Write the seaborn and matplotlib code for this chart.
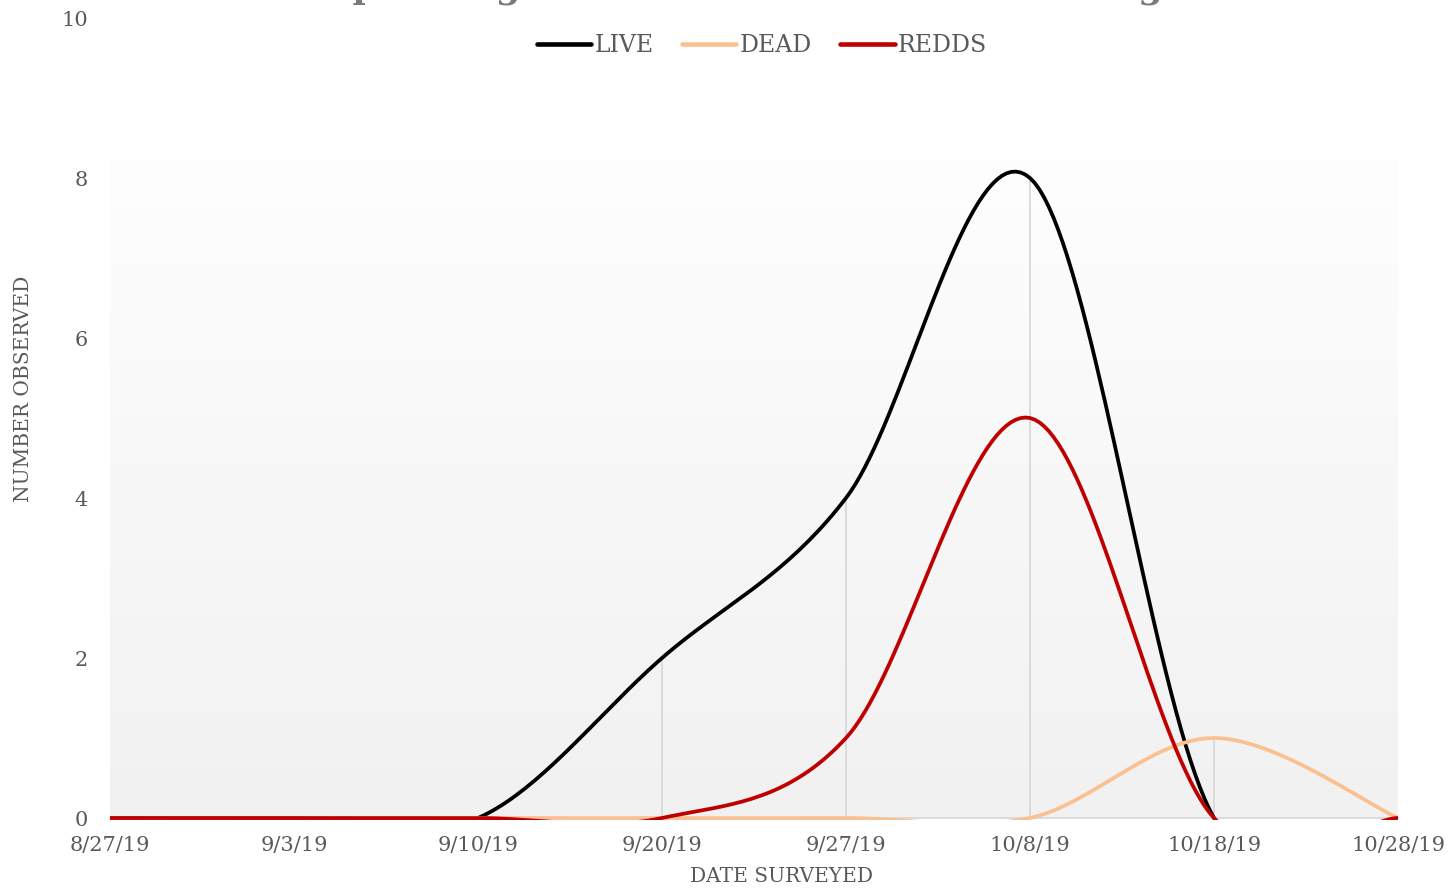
import numpy as np
import pandas as pd
import matplotlib
matplotlib.use('Agg')
import matplotlib.pyplot as plt
import seaborn as sns
from matplotlib.colors import LinearSegmentedColormap
from matplotlib.lines import Line2D
from matplotlib.patches import Rectangle

# data
dates = ['8/27/19', '9/3/19', '9/10/19', '9/20/19', '9/27/19', '10/8/19', '10/18/19', '10/28/19']
live = [0, 0, 0, 2, 4, 8, 0, 0]
dead = [0, 0, 0, 0, 0, 0, 1, 0]
redds = [0, 0, 0, 0, 1, 5, 0, 0]
series_names = ['LIVE', 'DEAD', 'REDDS']
series_colors = ['#000000', '#FBC08F', '#C00000']
title = 'Spawning Chinook Salmon Counts During'

TEXT = '#595959'


def smooth(y, n=40):
    # excel-style smoothed line: catmull-rom as cubic bezier segments
    pts = np.column_stack([np.arange(len(y)), np.asarray(y, float)])
    pad = np.vstack([pts[0], pts, pts[-1]])
    t = np.linspace(0, 1, n)[:, None]
    out = []
    for i in range(len(pts) - 1):
        p0, p1, p2, p3 = pad[i], pad[i + 1], pad[i + 2], pad[i + 3]
        c1 = p1 + (p2 - p0) / 6
        c2 = p2 - (p3 - p1) / 6
        seg = (1 - t) ** 3 * p1 + 3 * (1 - t) ** 2 * t * c1 + 3 * (1 - t) * t ** 2 * c2 + t ** 3 * p2
        out.append(seg if i == 0 else seg[1:])
    return np.vstack(out)


frames = []
for name, vals in zip(series_names, [live, dead, redds]):
    s = smooth(vals)
    frames.append(pd.DataFrame({'x': s[:, 0], 'y': s[:, 1], 'series': name}))
df = pd.concat(frames, ignore_index=True)

sns.set_theme(style='white')
plt.rcParams['font.family'] = ['DejaVu Serif']

fig = plt.figure(figsize=(14.49, 8.88), dpi=100)
ax = fig.add_axes([110 / 1449, 70 / 888, 1288 / 1449, 800 / 888])

# gradient plot area
grad = np.linspace(0, 1, 256)[:, None]
cmap = LinearSegmentedColormap.from_list('bg', ['#f1f1f1', '#ffffff'])
ax.imshow(grad, extent=[0, 7, 0, 8.86], origin='lower', aspect='auto', cmap=cmap, zorder=0)

# drop lines
tops = np.max([live, dead, redds], axis=0)
ax.vlines(np.arange(len(dates)), 0, tops, color='#d9d9d9', linewidth=1.3, zorder=1)

sns.lineplot(data=df, x='x', y='y', hue='series', hue_order=series_names, palette=series_colors,
             sort=False, estimator=None, units='series', linewidth=2.7, legend=False, ax=ax, zorder=3)
clip = Rectangle((0, -0.0025), 1, 1.01, transform=ax.transAxes, visible=False)
ax.add_patch(clip)
for ln in ax.lines:
    ln.set_clip_path(clip)
    ln.set_solid_capstyle('round')

ax.set_xlim(0, 7)
ax.set_ylim(0, 10)
ax.set_xticks(range(len(dates)))
ax.set_xticklabels(dates)
ax.set_yticks(range(0, 11, 2))
ax.tick_params(axis='both', length=0, labelsize=15, labelcolor=TEXT)
ax.tick_params(axis='x', pad=13)
ax.tick_params(axis='y', pad=16)
for sp in ['top', 'right', 'left']:
    ax.spines[sp].set_visible(False)
ax.spines['bottom'].set_color('#d9d9d9')
ax.spines['bottom'].set_linewidth(1.3)
ax.spines['bottom'].set_zorder(2)
ax.set_xlabel('DATE SURVEYED', fontsize=14.5, color=TEXT)
ax.set_ylabel('NUMBER OBSERVED', fontsize=14.5, color=TEXT)
ax.xaxis.set_label_coords(0.5210, -0.0725)
ax.xaxis.label.set_va('center')
ax.yaxis.set_label_coords(-0.0668, 0.536)
ax.yaxis.label.set_va('center')

handles = [Line2D([], [], color=c, linewidth=3.3, solid_capstyle='round') for c in series_colors]
leg = fig.legend(handles, series_names, loc='center', bbox_to_anchor=(762 / 1449, 1 - 46 / 888),
                 ncol=3, frameon=False, fontsize=17, handlelength=2.3, handletextpad=0.15,
                 columnspacing=1.2)
for t in leg.get_texts():
    t.set_color(TEXT)

# title sits mostly above the canvas, only descenders show
fig.text(745 / 1449, 1 + 3 / 888, title, ha='center', va='baseline', fontsize=25.5,
         fontweight='bold', color='#7a7a7a')

fig.savefig('out.png', dpi=100)
